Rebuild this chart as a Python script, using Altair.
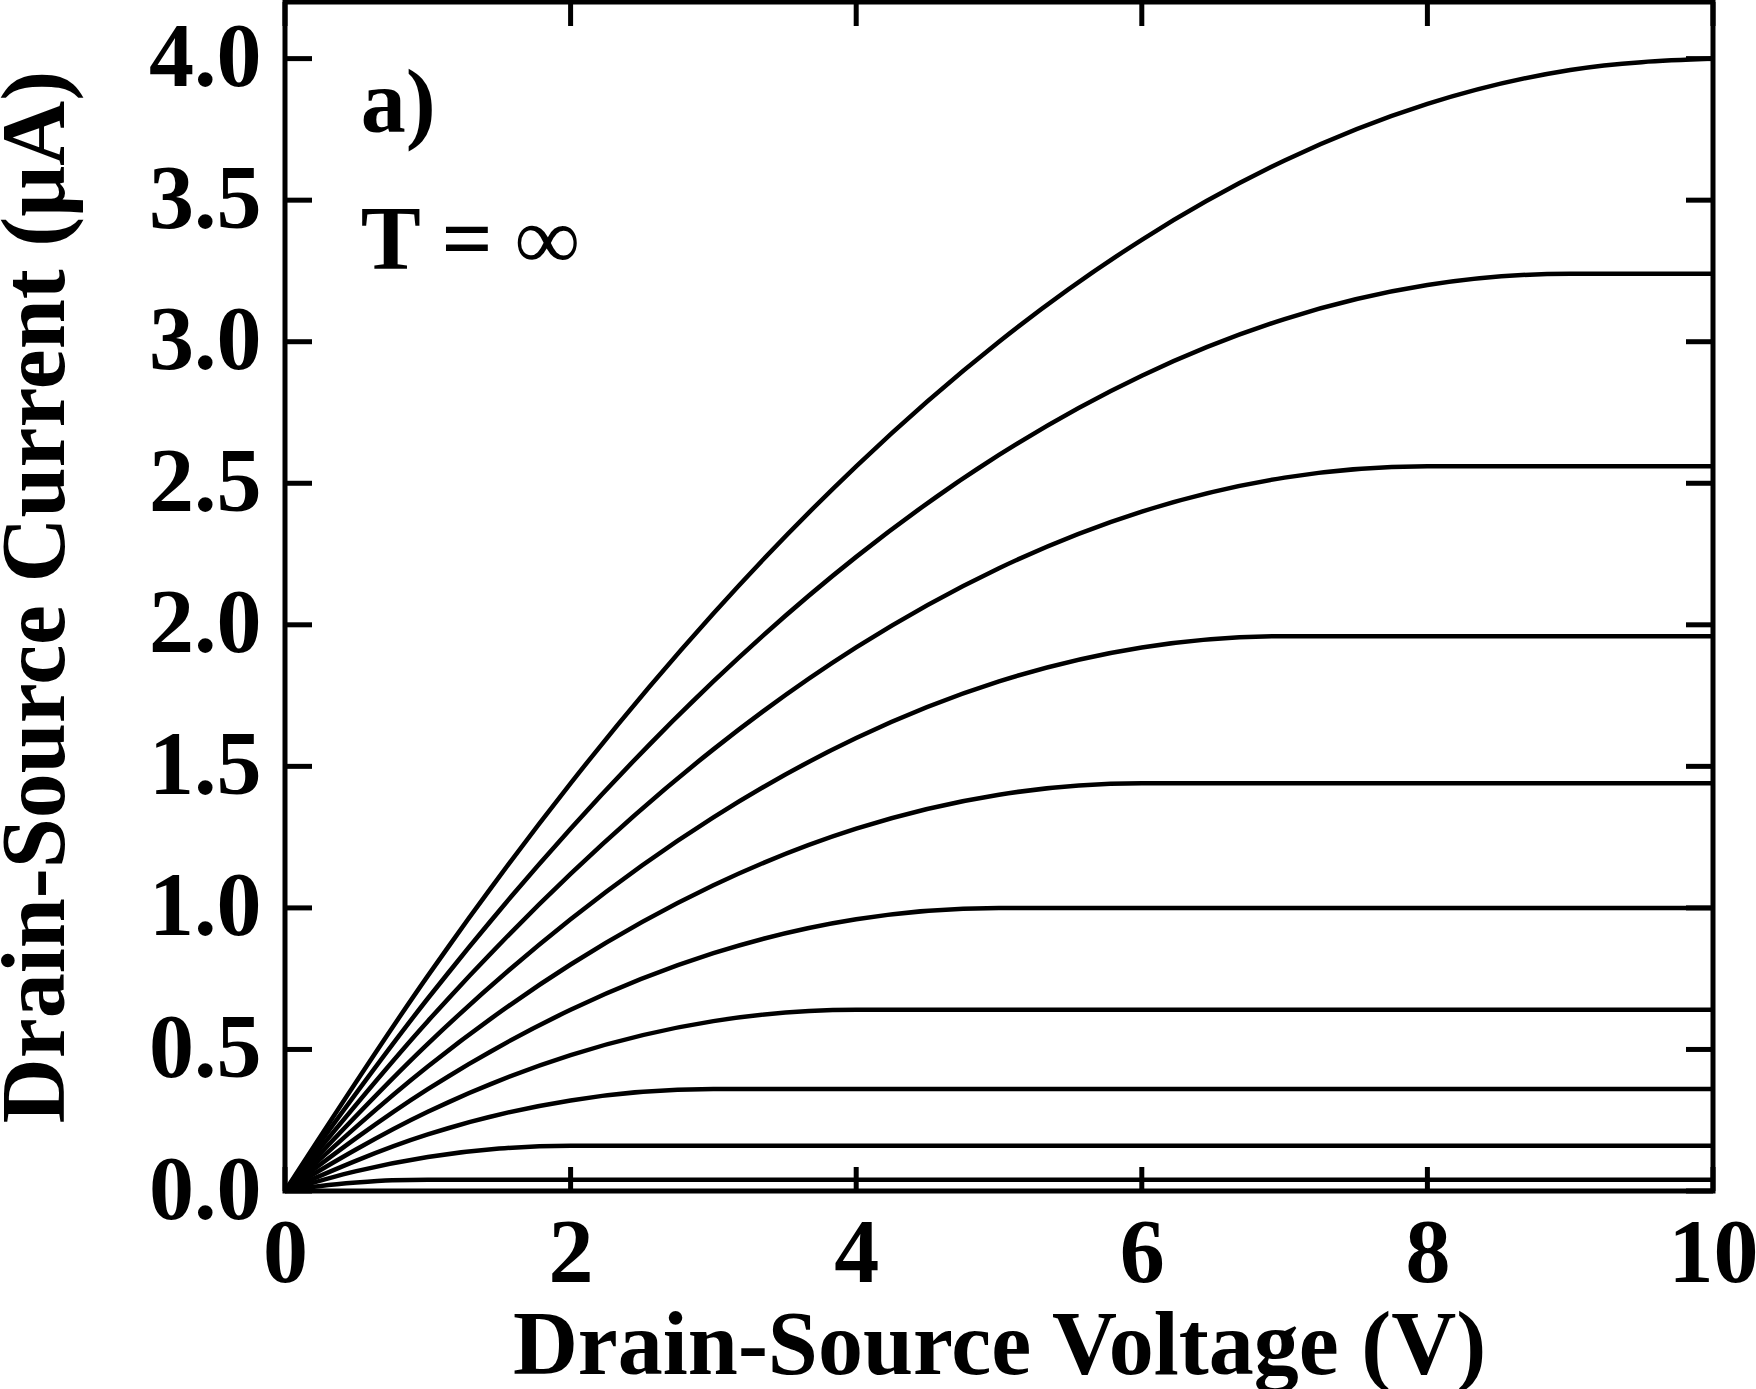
import altair as alt
import pandas as pd

# ---- data ----
vds_grid = [0, 1, 2, 3, 4, 5, 6, 7, 8, 9, 10]
ids_c10 = [0, 0.76, 1.44, 2.04, 2.56, 3.00, 3.36, 3.64, 3.84, 3.96, 4.00]
ids_c9 = [0, 0.68, 1.28, 1.80, 2.24, 2.60, 2.88, 3.08, 3.20, 3.24, 3.24]
ids_c8 = [0, 0.60, 1.12, 1.56, 1.92, 2.20, 2.40, 2.52, 2.56, 2.56, 2.56]
ids_c7 = [0, 0.52, 0.96, 1.32, 1.60, 1.80, 1.92, 1.96, 1.96, 1.96, 1.96]
ids_c6 = [0, 0.44, 0.80, 1.08, 1.28, 1.40, 1.44, 1.44, 1.44, 1.44, 1.44]
ids_c5 = [0, 0.36, 0.64, 0.84, 0.96, 1.00, 1.00, 1.00, 1.00, 1.00, 1.00]
ids_c4 = [0, 0.28, 0.48, 0.60, 0.64, 0.64, 0.64, 0.64, 0.64, 0.64, 0.64]
ids_c3 = [0, 0.20, 0.32, 0.36, 0.36, 0.36, 0.36, 0.36, 0.36, 0.36, 0.36]
vds_c2 = [0, 0.5, 1, 1.5, 2, 10]
ids_c2 = [0, 0.07, 0.12, 0.15, 0.16, 0.16]
vds_c1 = [0, 0.25, 0.5, 0.75, 1, 10]
ids_c1 = [0, 0.018, 0.03, 0.038, 0.04, 0.04]

x_ticks = [0, 2, 4, 6, 8, 10]
y_ticks = [0.0, 0.5, 1.0, 1.5, 2.0, 2.5, 3.0, 3.5, 4.0]
note_text = ["a)", "T = \u221e"]
note_x = [0.53, 0.53]
note_y = [3.74, 3.257]

x_title = "Drain-Source Voltage (V)"
y_title = "Drain-Source Current (\u03bcA)"

# ---- build table ----
series = [
    ("c10", vds_grid, ids_c10), ("c9", vds_grid, ids_c9), ("c8", vds_grid, ids_c8),
    ("c7", vds_grid, ids_c7), ("c6", vds_grid, ids_c6), ("c5", vds_grid, ids_c5),
    ("c4", vds_grid, ids_c4), ("c3", vds_grid, ids_c3), ("c2", vds_c2, ids_c2),
    ("c1", vds_c1, ids_c1),
]
rows = []
for name, vs, iss in series:
    for v, i in zip(vs, iss):
        rows.append({"curve": name, "v": v, "i": i})
df = pd.DataFrame(rows)

W, H = 1428, 1189
FONT = "Liberation Serif"
FS = 90

xscale = alt.Scale(domain=[0, 10], nice=False, zero=False)
yscale = alt.Scale(domain=[0, 4.2], nice=False, zero=False)

x_axis = alt.Axis(
    title=x_title, values=x_ticks, format="d", labelFlush=False,
    labelPadding=19, titleY=182, titleBaseline="alphabetic",
    titleX=W / 2, titleAlign="center",
)
y_axis = alt.Axis(
    title=y_title, values=y_ticks, format=".1f", labelFlush=False,
    labelPadding=24, titleAngle=270, titleX=-222, titleY=H / 2,
    titleBaseline="alphabetic", titleAlign="center",
)

X = alt.X("v:Q", scale=xscale, axis=x_axis)
Y = alt.Y("i:Q", scale=yscale, axis=y_axis)

lines = alt.Chart(df).mark_line(
    color="black", strokeWidth=4.5, interpolate="monotone"
).encode(x=X, y=Y, detail="curve:N")

xt = pd.DataFrame({"v": x_ticks})
yt = pd.DataFrame({"i": y_ticks})
tick_style = dict(color="black", strokeWidth=5)

left_ticks = alt.Chart(yt).mark_rule(**tick_style).encode(
    y=Y, x=alt.value(0), x2=alt.value(27))
right_ticks = alt.Chart(yt).mark_rule(**tick_style).encode(
    y=Y, x=alt.value(W), x2=alt.value(W - 27))
bottom_ticks = alt.Chart(xt).mark_rule(**tick_style).encode(
    x=X, y=alt.value(H), y2=alt.value(H - 24))
top_ticks = alt.Chart(xt).mark_rule(**tick_style).encode(
    x=X, y=alt.value(0), y2=alt.value(24))

notes = alt.Chart(pd.DataFrame({"v": note_x, "i": note_y, "t": note_text})).mark_text(
    font=FONT, fontSize=FS, fontWeight="bold", align="left", baseline="alphabetic",
    color="black",
).encode(x=X, y=Y, text="t:N")

chart = alt.layer(
    lines, left_ticks, right_ticks, bottom_ticks, top_ticks, notes
).properties(
    width=W, height=H,
    padding={"left": 285, "top": 2, "right": 43, "bottom": 198},
    autosize=alt.AutoSizeParams(type="none"),
    background="white",
).configure_view(
    stroke="black", strokeWidth=5, fill="white",
).configure_axis(
    domain=False, ticks=False, grid=False,
    labelFont=FONT, labelFontSize=FS, labelFontWeight="bold", labelColor="black",
    titleFont=FONT, titleFontSize=FS, titleFontWeight="bold", titleColor="black",
    labelOverlap=False,
)

chart.save("out.html", embed_options={"renderer": "svg", "actions": False})
